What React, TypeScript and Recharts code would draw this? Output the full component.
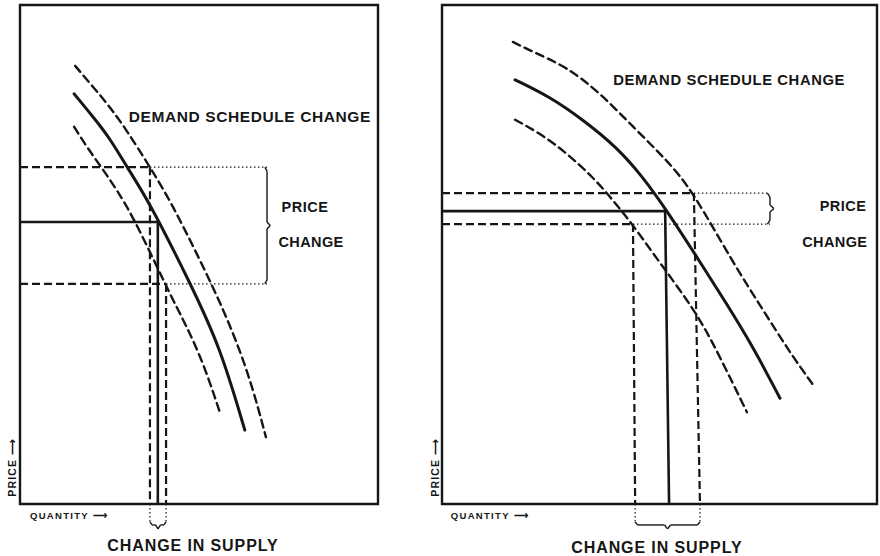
import {
  ComposedChart,
  Line,
  ReferenceArea,
  ReferenceDot,
  ReferenceLine,
  XAxis,
  YAxis,
} from "recharts";

type Pt = { q: number; p: number };

// left diagram: demand shifts, supply barely moves -> big price swing
const leftOuter: Pt[] = [
  { q: 15.4, p: 87.8 }, { q: 20.4, p: 83.6 }, { q: 25.1, p: 79.6 }, { q: 29.9, p: 74.8 },
  { q: 36.3, p: 67.5 }, { q: 41.9, p: 60.9 }, { q: 50.3, p: 48.9 }, { q: 57.8, p: 37.5 },
  { q: 64.2, p: 25.5 }, { q: 68.7, p: 13.4 },
];
const leftSolid: Pt[] = [
  { q: 15.1, p: 82.2 }, { q: 20.4, p: 77.6 }, { q: 25.1, p: 73.3 }, { q: 29.9, p: 67.5 },
  { q: 36.3, p: 60.3 }, { q: 47.5, p: 44.3 }, { q: 55.9, p: 31.5 }, { q: 62.8, p: 14.8 },
];
const leftInner: Pt[] = [
  { q: 15.1, p: 75.6 }, { q: 18.7, p: 71.5 }, { q: 22.9, p: 67.3 }, { q: 27.1, p: 62.9 },
  { q: 31.6, p: 57.5 }, { q: 38.3, p: 47.5 }, { q: 42.7, p: 40.9 }, { q: 50.3, p: 30.3 },
  { q: 55.9, p: 18.2 },
];
// where price/quantity guides meet the three curves (outer, solid, inner)
const leftEquilibria: Pt[] = [{ q: 36.3, p: 67.5 }, { q: 38.5, p: 56.5 }, { q: 40.8, p: 44.1 }];
const leftBaseQ = [36.3, 38.5, 40.8];

// right diagram: same demand shift, supply responds -> small price swing
const rightOuter: Pt[] = [
  { q: 16.3, p: 92.6 }, { q: 20.9, p: 90.6 }, { q: 28.7, p: 87.6 }, { q: 36.3, p: 82.4 },
  { q: 43.9, p: 75.6 }, { q: 51.7, p: 68.9 }, { q: 57.5, p: 62.9 }, { q: 66.9, p: 48.3 },
  { q: 73.8, p: 38.9 }, { q: 80.0, p: 30.3 }, { q: 85.7, p: 23.4 },
];
const rightSolid: Pt[] = [
  { q: 16.8, p: 85.0 }, { q: 24.8, p: 81.6 }, { q: 32.4, p: 77.0 }, { q: 40.2, p: 71.5 },
  { q: 46.2, p: 65.5 }, { q: 51.3, p: 59.3 }, { q: 58.6, p: 49.5 }, { q: 65.3, p: 40.3 },
  { q: 71.5, p: 31.5 }, { q: 77.7, p: 21.2 },
];
const rightInner: Pt[] = [
  { q: 16.8, p: 77.0 }, { q: 22.5, p: 74.3 }, { q: 28.7, p: 70.3 }, { q: 34.7, p: 65.5 },
  { q: 39.3, p: 60.9 }, { q: 43.9, p: 55.9 }, { q: 50.1, p: 48.3 }, { q: 58.6, p: 38.3 },
  { q: 63.9, p: 29.5 }, { q: 70.1, p: 18.4 },
];
const rightEquilibria: Pt[] = [{ q: 57.9, p: 62.3 }, { q: 51.3, p: 58.7 }, { q: 43.9, p: 56.1 }];
const rightBaseQ = [59.3, 52.2, 44.4];

const INK = "#161616";
const FONT = "'Liberation Sans', Arial, sans-serif";

type Seg = { a: Pt; b: Pt; kind: "dash" | "solid" | "dot" | "thin" };

const segStyle = {
  dash: { strokeWidth: 2.2, strokeDasharray: "8 4" },
  solid: { strokeWidth: 2.6 },
  dot: { strokeWidth: 1.2, strokeDasharray: "1.5 2.5" },
  thin: { strokeWidth: 1.4 },
};

function txt(value: string, size: number, extra: Record<string, unknown> = {}) {
  return {
    value,
    position: "center" as const,
    fill: INK,
    fontSize: size,
    fontWeight: 700,
    fontFamily: FONT,
    ...extra,
  };
}

function Panel({
  outer,
  solid,
  inner,
  eq,
  baseQ,
  bracketQ,
  width,
  margin,
  spots,
  titleSize = 15.5,
}: {
  outer: Pt[];
  solid: Pt[];
  inner: Pt[];
  eq: Pt[];
  baseQ: number[];
  bracketQ: number;
  width: number;
  margin: { top: number; left: number; right: number; bottom: number };
  spots: Record<string, Pt>;
  titleSize?: number;
}) {
  const segs: Seg[] = [];
  eq.forEach((e, i) => {
    const kind = i === 1 ? "solid" : "dash";
    segs.push({ a: { q: 0, p: e.p }, b: e, kind });
    segs.push({ a: e, b: { q: baseQ[i], p: 0 }, kind });
    if (i !== 1) segs.push({ a: e, b: { q: bracketQ, p: e.p }, kind: "dot" });
  });

  // curly bracket next to the price guides
  const hi = eq[0].p;
  const lo = eq[2].p;
  const mid = (hi + lo) / 2;
  const bq = bracketQ;
  segs.push({ a: { q: bq - 0.6, p: hi }, b: { q: bq, p: hi - 0.8 }, kind: "thin" });
  segs.push({ a: { q: bq, p: hi - 0.8 }, b: { q: bq, p: mid + 0.7 }, kind: "thin" });
  segs.push({ a: { q: bq, p: mid + 0.7 }, b: { q: bq + 0.9, p: mid }, kind: "thin" });
  segs.push({ a: { q: bq + 0.9, p: mid }, b: { q: bq, p: mid - 0.7 }, kind: "thin" });
  segs.push({ a: { q: bq, p: mid - 0.7 }, b: { q: bq, p: lo + 0.8 }, kind: "thin" });
  segs.push({ a: { q: bq, p: lo + 0.8 }, b: { q: bq - 0.6, p: lo }, kind: "thin" });

  // curly bracket under the quantity guides
  const q0 = Math.min(...baseQ);
  const q1 = Math.max(...baseQ);
  const qm = (q0 + q1) / 2;
  const d = -4.2;
  segs.push({ a: { q: q0, p: 0 }, b: { q: q0, p: d + 0.6 }, kind: "dot" });
  segs.push({ a: { q: q1, p: 0 }, b: { q: q1, p: d + 0.6 }, kind: "dot" });
  segs.push({ a: { q: q0, p: d + 0.6 }, b: { q: q0 + 0.6, p: d }, kind: "thin" });
  segs.push({ a: { q: q0 + 0.6, p: d }, b: { q: qm - 0.7, p: d }, kind: "thin" });
  segs.push({ a: { q: qm - 0.7, p: d }, b: { q: qm, p: d - 0.8 }, kind: "thin" });
  segs.push({ a: { q: qm, p: d - 0.8 }, b: { q: qm + 0.7, p: d }, kind: "thin" });
  segs.push({ a: { q: qm + 0.7, p: d }, b: { q: q1 - 0.6, p: d }, kind: "thin" });
  segs.push({ a: { q: q1 - 0.6, p: d }, b: { q: q1, p: d + 0.6 }, kind: "thin" });

  const curves: [Pt[], boolean][] = [
    [outer, true],
    [solid, false],
    [inner, true],
  ];

  return (
    <ComposedChart width={width} height={556} margin={margin}>
      <XAxis type="number" dataKey="q" domain={[0, 100]} allowDataOverflow hide />
      <YAxis type="number" dataKey="p" domain={[0, 100]} allowDataOverflow hide />
      <ReferenceArea
        x1={0}
        x2={100}
        y1={0}
        y2={100}
        fill="none"
        stroke={INK}
        strokeWidth={2.4}
        ifOverflow="visible"
      />
      {segs.map((s, i) => (
        <ReferenceLine
          key={i}
          segment={[
            { x: s.a.q, y: s.a.p },
            { x: s.b.q, y: s.b.p },
          ]}
          stroke={INK}
          ifOverflow="visible"
          {...segStyle[s.kind]}
        />
      ))}
      {curves.map(([pts, dashed], i) => (
        <Line
          key={i}
          data={pts}
          dataKey="p"
          type="basis"
          stroke={INK}
          strokeWidth={dashed ? 2.4 : 3}
          strokeDasharray={dashed ? "8 5" : undefined}
          strokeLinecap="round"
          dot={false}
          activeDot={false}
          isAnimationActive={false}
        />
      ))}
      <ReferenceDot x={spots.demand.q} y={spots.demand.p} r={0} ifOverflow="visible"
        label={txt("DEMAND SCHEDULE CHANGE", titleSize, { letterSpacing: 0.6 })} />
      <ReferenceDot x={spots.price.q} y={spots.price.p} r={0} ifOverflow="visible"
        label={txt("PRICE", 14.5, { letterSpacing: 0.5 })} />
      <ReferenceDot x={spots.change.q} y={spots.change.p} r={0} ifOverflow="visible"
        label={txt("CHANGE", 14.5, { letterSpacing: 0.4 })} />
      <ReferenceDot x={spots.supply.q} y={spots.supply.p} r={0} ifOverflow="visible"
        label={txt("CHANGE IN SUPPLY", 16, { letterSpacing: 0.9 })} />
      <ReferenceDot x={spots.quantity.q} y={spots.quantity.p} r={0} ifOverflow="visible"
        label={txt("QUANTITY ⟶", 9.5, { letterSpacing: 1.3 })} />
      <ReferenceDot x={spots.priceAxis.q} y={spots.priceAxis.p} r={0} ifOverflow="visible"
        label={txt("PRICE ⟶", 10.5, { angle: -90, letterSpacing: 1.2 })} />
    </ComposedChart>
  );
}

export default function App() {
  return (
    <div style={{ position: "absolute", left: 0, top: 0, width: 880, height: 556, background: "#fff" }}>
      <div style={{ position: "absolute", left: 0, top: 0 }}>
        <Panel
          outer={leftOuter}
          solid={leftSolid}
          inner={leftInner}
          eq={leftEquilibria}
          baseQ={leftBaseQ}
          bracketQ={69.0}
          width={420}
          margin={{ top: 5, left: 20, right: 42, bottom: 52 }}
          spots={{
            demand: { q: 64.2, p: 77.6 },
            price: { q: 79.6, p: 59.5 },
            change: { q: 81.3, p: 52.5 },
            supply: { q: 48.3, p: -8.2 },
            quantity: { q: 13.7, p: -2.4 },
            priceAxis: { q: -2.2, p: 7.4 },
          }}
        />
      </div>
      <div style={{ position: "absolute", left: 420, top: 0 }}>
        <Panel
          outer={rightOuter}
          solid={rightSolid}
          inner={rightInner}
          eq={rightEquilibria}
          baseQ={rightBaseQ}
          bracketQ={75.4}
          width={460}
          titleSize={14.8}
          margin={{ top: 5, left: 22, right: 3, bottom: 52 }}
          spots={{
            demand: { q: 66.0, p: 85.0 },
            price: { q: 92.2, p: 59.7 },
            change: { q: 90.3, p: 52.5 },
            supply: { q: 49.4, p: -8.6 },
            quantity: { q: 11.0, p: -2.4 },
            priceAxis: { q: -1.6, p: 7.4 },
          }}
        />
      </div>
    </div>
  );
}
